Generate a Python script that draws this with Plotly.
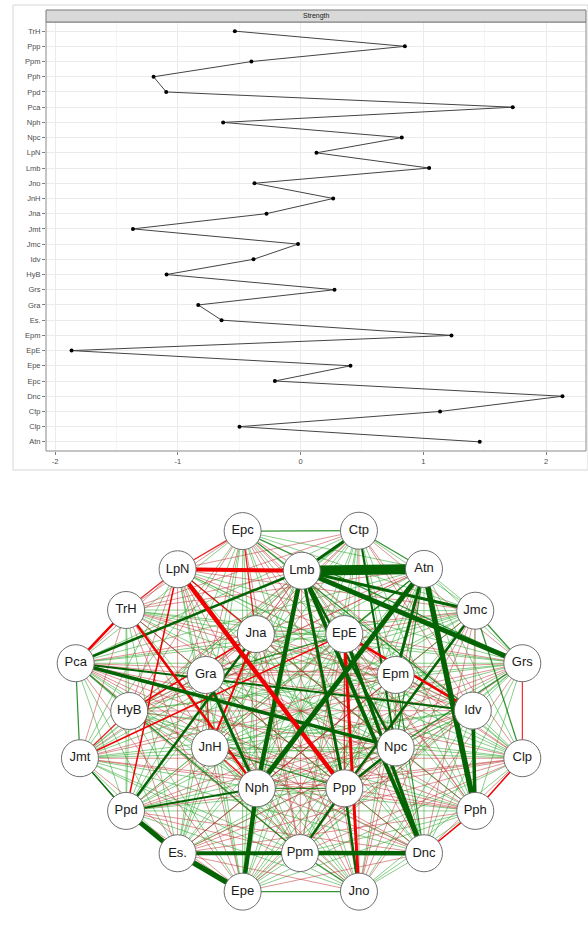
import plotly.graph_objects as go

# ---- data -------------------------------------------------------------
NODES = ["Atn", "Clp", "Ctp", "Dnc", "Epc", "Epe", "EpE", "Epm", "Es.", "Gra",
         "Grs", "HyB", "Idv", "Jmc", "Jmt", "Jna", "JnH", "Jno", "Lmb", "LpN",
         "Npc", "Nph", "Pca", "Ppd", "Pph", "Ppm", "Ppp", "TrH"]

STRENGTH = [1.46, -0.497, 1.137, 2.134, -0.209, 0.407, -1.865, 1.23, -0.643, -0.833,
            0.277, -1.091, -0.383, -0.02, -1.365, -0.277, 0.266, -0.375, 1.048, 0.13,
            0.825, -0.63, 1.729, -1.094, -1.197, -0.40, 0.85, -0.535]

X_TICKS = [-2, -1, 0, 1, 2]

# network layout coordinates (same order as NODES)
LAYOUT_X = [0.551, 0.988, 0.262, 0.551, -0.255, -0.255, 0.197, 0.425, -0.544, -0.419,
            0.988, -0.759, 0.768, 0.779, -0.978, -0.196, -0.400, 0.262, 0.008, -0.544,
            0.425, -0.192, -0.997, -0.773, 0.779, 0.000, 0.197, -0.773]
LAYOUT_Y = [0.785, -0.261, 0.996, -0.786, 0.994, -0.998, 0.425, 0.199, -0.786, 0.199,
            0.264, 0.000, 0.002, 0.554, -0.261, 0.425, -0.203, -0.998, 0.775, 0.783,
            -0.201, -0.427, 0.264, -0.552, -0.552, -0.785, -0.427, 0.558]

# weak edges, lower triangle: row i lists node i against nodes 0..i-1
# g/G = weak/moderate positive, r/R = weak/moderate negative, . = none
WEAK_EDGES = [
    "",
    "g",
    "Gr",
    "grg",
    "ggGr",
    "rggrg",
    "Grgrrg",
    "grgGrgr",
    "gr.ggrgr",
    "rgrgrgGrg",
    "ggrgGgrggr",
    "rgggrgrgrgg",
    "ggrgGrgrgrgr",
    "gGgrggrgrgGgr",
    "grgggrgrggrRgg",
    "rgrgRggrgrgrgrr",
    "gggrgrrggRgrgggr",
    "rgrggGRgrgrggrgrg",
    "GgGgrggrgrGrrGgrgr",
    "rgrgRgrgrrgrgrgRgrR",
    "GgGgrgrgrgGrgrgrgrgr",
    "GrgrgGgrgGrgrggrRrGrg",
    "grgrgrgrgrggrgGrgrGrgg",
    "grgrgrggGgrgrgGGrgrggrg",
    "GrgRggrgrgggGgrgrgrgrgrg",
    "grgGrgrgGrgrgrgrgGrgrgGrg",
    "grgrgrRgrgrgrgrgGgrRGGrgrG",
    "rgrgrrgrgrggrgrgrgrRgrRgrgr",
]

# strong edges: (node, node, signed weight)
STRONG_EDGES = [
    ("Lmb", "Atn", 10), ("Lmb", "Grs", 5), ("Lmb", "Jmc", 3), ("Lmb", "Nph", 4.5),
    ("Lmb", "Dnc", 4), ("Lmb", "Npc", 2.5), ("Lmb", "Ppp", 3), ("Ctp", "Lmb", 3),
    ("Atn", "Nph", 5), ("Atn", "Pph", 5.5), ("Atn", "Epm", 3), ("Ppd", "Jna", 2.5),
    ("Jmc", "Ppp", 2.5), ("Pca", "Lmb", 2.5), ("Pca", "Npc", 3.5), ("Pca", "Idv", 2),
    ("Ctp", "Npc", 2), ("Nph", "Epe", 4.5), ("Nph", "Ppd", 2), ("Es.", "Ppd", 5),
    ("Es.", "Epe", 5.5), ("Es.", "Ppm", 4), ("Ppm", "Dnc", 4.5), ("Idv", "Pph", 3.5),
    ("Jmt", "Ppd", 1.5), ("Gra", "Nph", 3), ("EpE", "Dnc", 3.5), ("Ppp", "Jno", 2.5),
    ("Ppm", "Ppp", 2.5), ("Npc", "Ppp", 2.5),
    ("LpN", "Lmb", -4), ("LpN", "Ppp", -4.5), ("TrH", "Pca", -2.5), ("TrH", "Nph", -2.5),
    ("EpE", "Jno", -3), ("EpE", "Idv", -2.5), ("Jna", "HyB", -1.5), ("Jna", "JnH", -2),
    ("Clp", "Pph", -1.5), ("Pph", "Dnc", -1.5), ("Grs", "Clp", -1), ("Jmt", "EpE", -1.5),
    ("Ppd", "LpN", -1.5),
]

# ---- figure geometry (pixels) ----------------------------------------
W, H = 588, 942
PANEL_L, PANEL_R, PANEL_T, PANEL_B = 46, 586, 22, 451
STRIP_T = 10


def py(y):
    return 1 - y / H


fig = go.Figure()

# ---- top: centrality strength plot -----------------------------------
ypos = list(range(len(NODES)))
fig.add_trace(go.Scatter(
    x=STRENGTH, y=ypos, mode="lines+markers",
    line=dict(color="#444444", width=1),
    marker=dict(color="black", size=4),
    xaxis="x", yaxis="y", hoverinfo="skip", showlegend=False,
))

# ---- bottom: network ---------------------------------------------------
idx = {n: i for i, n in enumerate(NODES)}
strong_pairs = {frozenset((a, b)) for a, b, _ in STRONG_EDGES}

weak_style = {
    "g": dict(color="rgba(50,170,50,0.68)", width=0.85),
    "G": dict(color="rgba(0,120,0,0.8)", width=1.25),
    "r": dict(color="rgba(190,50,50,0.62)", width=0.85),
    "R": dict(color="rgba(225,0,0,0.85)", width=1.3),
}
groups = {k: ([], []) for k in weak_style}
for i, row in enumerate(WEAK_EDGES):
    for j, ch in zip(range(i), row):
        if ch not in weak_style:
            continue
        if frozenset((NODES[i], NODES[j])) in strong_pairs:
            continue
        xs, ys = groups[ch]
        xs += [LAYOUT_X[i], LAYOUT_X[j], None]
        ys += [LAYOUT_Y[i], LAYOUT_Y[j], None]

for ch in ["g", "r", "G", "R"]:
    xs, ys = groups[ch]
    fig.add_trace(go.Scatter(x=xs, y=ys, mode="lines", line=weak_style[ch],
                             xaxis="x2", yaxis="y2", hoverinfo="skip", showlegend=False))

for a, b, w in sorted(STRONG_EDGES, key=lambda e: abs(e[2])):
    ia, ib = idx[a], idx[b]
    color = "#046404" if w > 0 else "#f00000"
    fig.add_trace(go.Scatter(
        x=[LAYOUT_X[ia], LAYOUT_X[ib]], y=[LAYOUT_Y[ia], LAYOUT_Y[ib]],
        mode="lines", line=dict(color=color, width=abs(w)),
        xaxis="x2", yaxis="y2", hoverinfo="skip", showlegend=False,
    ))

fig.add_trace(go.Scatter(
    x=LAYOUT_X, y=LAYOUT_Y, mode="markers+text", text=NODES,
    textposition="middle center",
    textfont=dict(family="Liberation Sans, Arial, sans-serif", size=13, color="#1a1a1a"),
    marker=dict(size=37, color="white", line=dict(color="#6e6e6e", width=1)),
    xaxis="x2", yaxis="y2", hoverinfo="skip", showlegend=False,
))

# ---- axes ---------------------------------------------------------------
x_lo = -2 - 9 / 122.8
x_hi = 2 + 40 / 122.8
fig.update_layout(
    width=W, height=H, margin=dict(l=0, r=0, t=0, b=0),
    paper_bgcolor="white", plot_bgcolor="white",
    font=dict(family="Liberation Sans, Arial, sans-serif"),
    xaxis=dict(
        domain=[PANEL_L / W, PANEL_R / W], range=[x_lo, x_hi],
        tickvals=X_TICKS, ticktext=[str(t) for t in X_TICKS],
        ticks="outside", ticklen=3, tickcolor="#7f7f7f",
        tickfont=dict(size=7.5, color="#4d4d4d"),
        showgrid=True, gridcolor="#ebebeb", gridwidth=1,
        minor=dict(dtick=0.5, tick0=0, showgrid=True, gridcolor="#f5f5f5", gridwidth=0.6),
        zeroline=False, showline=False, anchor="y", fixedrange=True,
    ),
    yaxis=dict(
        domain=[py(PANEL_B), py(PANEL_T)], range=[-0.6, 27.6],
        tickvals=ypos, ticktext=NODES,
        ticks="outside", ticklen=3, tickcolor="#7f7f7f",
        tickfont=dict(size=7.5, color="#4d4d4d"),
        showgrid=True, gridcolor="#ebebeb", gridwidth=1,
        zeroline=False, showline=False, anchor="x", fixedrange=True,
    ),
    xaxis2=dict(domain=[0, 1], range=[-300 / 225, 288 / 225], visible=False,
                anchor="y2", fixedrange=True),
    yaxis2=dict(domain=[0, 0.5], range=[(711 - 942) / 181, (711 - 471) / 181],
                visible=False, anchor="x2", fixedrange=True),
)

shapes = [
    # outer frame of the strength plot
    dict(type="rect", xref="paper", yref="paper",
         x0=13 / W, x1=1.0, y0=py(470), y1=py(5),
         line=dict(color="#d6d6d6", width=1), fillcolor="rgba(0,0,0,0)", layer="below"),
    # panel border
    dict(type="rect", xref="paper", yref="paper",
         x0=PANEL_L / W, x1=PANEL_R / W, y0=py(PANEL_B), y1=py(PANEL_T),
         line=dict(color="#8a8a8a", width=1), fillcolor="rgba(0,0,0,0)", layer="above"),
    # facet strip
    dict(type="rect", xref="paper", yref="paper",
         x0=PANEL_L / W, x1=PANEL_R / W, y0=py(PANEL_T), y1=py(STRIP_T),
         line=dict(color="#7a7a7a", width=1), fillcolor="#d9d9d9", layer="above"),
]
fig.update_layout(shapes=shapes)
fig.add_annotation(
    xref="paper", yref="paper", x=(PANEL_L + PANEL_R) / 2 / W, y=py((PANEL_T + STRIP_T) / 2),
    text="Strength", showarrow=False, font=dict(size=7, color="#1a1a1a"),
    xanchor="center", yanchor="middle",
)

fig.write_html("out.html")
